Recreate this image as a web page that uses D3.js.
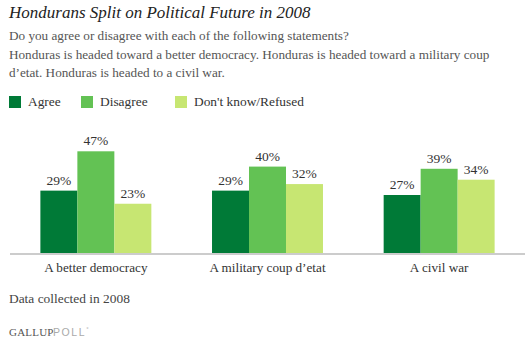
<!DOCTYPE html>
<html><head><meta charset="utf-8">
<script src="https://cdn.jsdelivr.net/npm/d3@7"></script>
<style>
body{margin:0;background:#fff;}
svg{display:block;}
</style></head>
<body><svg id="c" width="532" height="345"></svg>
<script>
const categories = ["A better democracy", "A military coup d\u2019etat", "A civil war"];
const seriesNames = ["Agree", "Disagree", "Don't know/Refused"];
const agree = [29, 29, 27];
const disagree = [47, 40, 39];
const dontKnow = [23, 32, 34];
const colors = ["#007a37", "#63c254", "#c7e672"];
const titleText = "Hondurans Split on Political Future in 2008";
const subtitleLines = [
  "Do you agree or disagree with each of the following statements?",
  "Honduras is headed toward a better democracy. Honduras is headed toward a military coup",
  "d\u2019etat. Honduras is headed to a civil war."
];
const noteText = "Data collected in 2008";

const values = [agree, disagree, dontKnow];
const serif = "'Liberation Serif', 'DejaVu Serif', serif";
const sans = "'Liberation Sans', Arial, sans-serif";
const svg = d3.select("#c");

svg.append("text").attr("x", 9).attr("y", 18)
  .attr("font-family", serif).attr("font-style", "italic").attr("font-size", 17)
  .attr("fill", "#222").text(titleText);

subtitleLines.forEach((t, i) => {
  svg.append("text").attr("x", 9).attr("y", 40 + i * 18.5)
    .attr("font-family", serif).attr("font-size", 13.2).attr("fill", "#555").text(t);
});

// legend
const legendX = [9, 81, 175];
seriesNames.forEach((s, i) => {
  svg.append("rect").attr("x", legendX[i]).attr("y", 96).attr("width", 12).attr("height", 12).attr("fill", colors[i]);
  svg.append("text").attr("x", legendX[i] + 19).attr("y", 106)
    .attr("font-family", serif).attr("font-size", 13.4).attr("fill", "#333").text(s);
});

const baseY = 254;
const y = d3.scaleLinear().domain([0, 47]).range([baseY, 151.3]);
const x0 = d3.scaleBand().domain(categories).range([10, 525]).paddingInner(0.3535).paddingOuter(0.177);
const x1 = d3.scaleBand().domain(seriesNames).range([0, x0.bandwidth()]);

const g = svg.append("g");
categories.forEach((c, ci) => {
  seriesNames.forEach((s, si) => {
    const v = values[si][ci];
    const bx = x0(c) + x1(s);
    g.append("rect").attr("x", bx).attr("y", y(v)).attr("width", x1.bandwidth()).attr("height", baseY - y(v)).attr("fill", colors[si]);
    g.append("text").attr("x", bx + x1.bandwidth() / 2).attr("y", y(v) - 6)
      .attr("text-anchor", "middle").attr("font-family", serif).attr("font-size", 13.5).attr("fill", "#333").text(v + "%");
  });
});

// baseline axis
const axis = d3.axisBottom(x0).tickSize(0).tickPadding(9);
const ag = svg.append("g").attr("transform", `translate(0,${baseY})`).call(axis);
ag.select(".domain").attr("stroke", "#ccc").attr("stroke-width", 2).attr("d", "M10,0H525");
ag.selectAll("text").attr("font-family", serif).attr("font-size", 13.2).attr("fill", "#333");

svg.append("text").attr("x", 9).attr("y", 303)
  .attr("font-family", serif).attr("font-size", 13.4).attr("fill", "#444").text(noteText);

const logo = svg.append("text").attr("x", 9).attr("y", 336);
logo.append("tspan").attr("font-family", serif).attr("font-size", 11).attr("fill", "#555").attr("letter-spacing", 0.2).text("GALLUP");
logo.append("tspan").attr("x", 53).attr("font-family", sans).attr("font-size", 10.5).attr("fill", "#aaa").attr("letter-spacing", 1.6).text("POLL");
logo.append("tspan").attr("font-family", sans).attr("font-size", 6).attr("fill", "#aaa").attr("dy", -5).text("\u00B0");
</script></body></html>
